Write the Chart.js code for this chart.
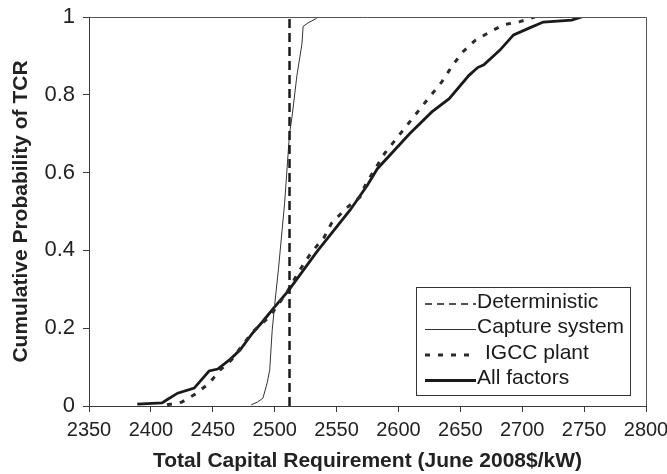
<!DOCTYPE html>
<html>
<head>
<meta charset="utf-8">
<script src="https://cdn.jsdelivr.net/npm/chart.js@4/dist/chart.umd.min.js"></script>
<style>
  html, body { margin: 0; padding: 0; background: #fff; }
  #wrap { width: 667px; height: 474px; }
</style>
</head>
<body>
<div id="wrap"><canvas id="c" width="667" height="474"></canvas></div>
<script>
// x ticks and y ticks
const xTicks = [2350, 2400, 2450, 2500, 2550, 2600, 2650, 2700, 2750, 2800];
const yTicks = [0, 0.2, 0.4, 0.6, 0.8, 1];

// Deterministic TCR (vertical line)
const detX = [2512, 2512];
const detY = [0, 1];

// Capture system uncertainty only
const captureX = [2481, 2486, 2490.5, 2494, 2496, 2498, 2500, 2503, 2508, 2512, 2514, 2518, 2522, 2523, 2527, 2533, 2535];
const captureY = [0.003, 0.01, 0.02, 0.06, 0.093, 0.195, 0.26, 0.35, 0.52, 0.70, 0.743, 0.85, 0.93, 0.976, 0.985, 0.995, 1];

// IGCC plant uncertainty only
const igccX = [2413, 2425, 2436, 2447, 2456, 2465, 2482, 2496, 2510, 2518, 2524, 2530, 2540, 2546, 2558, 2569, 2574, 2589, 2607, 2625, 2635, 2644, 2652, 2662, 2674, 2685, 2698, 2710];
const igccY = [0.003, 0.01, 0.031, 0.058, 0.093, 0.118, 0.19, 0.23, 0.293, 0.337, 0.368, 0.396, 0.434, 0.47, 0.509, 0.537, 0.573, 0.65, 0.722, 0.794, 0.833, 0.877, 0.91, 0.94, 0.962, 0.98, 0.988, 1];

// All factors
const allX = [2389, 2409, 2413, 2421.6, 2435, 2447, 2454, 2464, 2472, 2482, 2490, 2500, 2511, 2534, 2561, 2575, 2583, 2609, 2627, 2641, 2657, 2664, 2669, 2682, 2693, 2706, 2717, 2740, 2748];
const allY = [0.005, 0.008, 0.016, 0.033, 0.046, 0.09, 0.095, 0.12, 0.144, 0.187, 0.216, 0.255, 0.296, 0.396, 0.504, 0.568, 0.61, 0.70, 0.756, 0.79, 0.85, 0.87, 0.877, 0.915, 0.954, 0.972, 0.987, 0.992, 1];

const labels = ["Deterministic", "Capture system", "IGCC plant", "All factors"];

const pts = (xs, ys) => xs.map((x, i) => ({ x, y: ys[i] }));

const ink = "#1a1a1a";
const axisColor = "#3a3a3a";
const fontFamily = "'Liberation Sans', Arial, sans-serif";

const frame = {
    id: "frame",
    afterDatasetsDraw(chart) {
        const { ctx, chartArea: a } = chart;
        ctx.save();
        ctx.strokeStyle = "#555";
        ctx.lineWidth = 1;
        ctx.beginPath();
        ctx.moveTo(a.left, a.top + 0.5);
        ctx.lineTo(a.right + 0.5, a.top + 0.5);
        ctx.lineTo(a.right + 0.5, a.bottom);
        ctx.stroke();
        ctx.restore();
    }
};

const boxLegend = {
    id: "boxLegend",
    afterDraw(chart) {
        const { ctx } = chart;
        const x0 = 416, y0 = 287, w = 214, h = 108;
        ctx.save();
        ctx.fillStyle = "#fff";
        ctx.fillRect(x0, y0, w, h);
        ctx.strokeStyle = "#333";
        ctx.lineWidth = 1;
        ctx.strokeRect(x0 + 0.5, y0 + 0.5, w, h);
        ctx.font = "21px " + fontFamily;
        ctx.textBaseline = "middle";
        ctx.fillStyle = ink;
        const legendWidths = [1.3, 1, 3, 2.8];
        chart.data.datasets.forEach((ds, i) => {
            const y = y0 + 15 + i * 25.5;
            ctx.beginPath();
            ctx.strokeStyle = ds.borderColor;
            ctx.lineWidth = legendWidths[i];
            ctx.setLineDash(i === 0 ? [7, 5] : (ds.borderDash || []));
            ctx.moveTo(425, y + 2);
            ctx.lineTo(476, y + 2);
            ctx.stroke();
            ctx.setLineDash([]);
            ctx.fillText(ds.label, i === 2 ? 485 : 477, y);
        });
        ctx.restore();
    }
};

const config = {
    type: "line",
    data: {
        datasets: [
            {
                label: labels[0],
                data: pts(detX, detY),
                borderColor: ink,
                borderWidth: 2.5,
                borderDash: [9, 5]
            },
            {
                label: labels[1],
                data: pts(captureX, captureY),
                borderColor: "#333",
                borderWidth: 1
            },
            {
                label: labels[2],
                data: pts(igccX, igccY),
                borderColor: "#2a2a2a",
                borderWidth: 3,
                borderDash: [5, 8]
            },
            {
                label: labels[3],
                data: pts(allX, allY),
                borderColor: ink,
                borderWidth: 2.8
            }
        ]
    },
    options: {
        responsive: false,
        animation: false,
        elements: {
            point: { radius: 0 },
            line: { tension: 0, borderCapStyle: "butt" }
        },
        layout: { padding: { top: 17, right: 21, left: 0, bottom: 0 } },
        plugins: {
            legend: { display: false },
            tooltip: { enabled: false }
        },
        scales: {
            x: {
                type: "linear",
                min: 2350,
                max: 2800,
                afterBuildTicks: (scale) => {
                    scale.ticks = xTicks.map((v) => ({ value: v }));
                },
                afterFit: (scale) => {
                    scale.height = 68;
                    scale.paddingLeft = 0;
                    scale.paddingRight = 0;
                },
                grid: {
                    drawOnChartArea: false,
                    tickLength: 6,
                    color: axisColor
                },
                border: { display: true, color: axisColor, width: 1 },
                ticks: {
                    color: "#222",
                    padding: 6,
                    maxRotation: 0,
                    autoSkip: false,
                    font: { family: fontFamily, size: 20 },
                    callback: (v) => String(v)
                },
                title: {
                    display: true,
                    text: "Total Capital Requirement (June 2008$/kW)",
                    color: "#222",
                    padding: { top: 2, bottom: 0 },
                    font: { family: fontFamily, size: 21, weight: "bold" }
                }
            },
            y: {
                type: "linear",
                min: 0,
                max: 1,
                afterBuildTicks: (scale) => {
                    scale.ticks = yTicks.map((v) => ({ value: v }));
                },
                afterFit: (scale) => {
                    scale.width = 89;
                    scale.paddingTop = 0;
                    scale.paddingBottom = 0;
                },
                grid: {
                    drawOnChartArea: false,
                    tickLength: 6,
                    color: axisColor
                },
                border: { display: true, color: axisColor, width: 1 },
                ticks: {
                    color: "#222",
                    padding: 8,
                    autoSkip: false,
                    font: { family: fontFamily, size: 22 },
                    callback: (v) => String(v)
                },
                title: {
                    display: true,
                    text: "Cumulative Probability of TCR",
                    color: "#222",
                    padding: { top: 9, bottom: 4 },
                    font: { family: fontFamily, size: 21, weight: "bold" }
                }
            }
        }
    },
    plugins: [frame, boxLegend]
};

new Chart(document.getElementById("c"), config);
</script>
</body>
</html>
